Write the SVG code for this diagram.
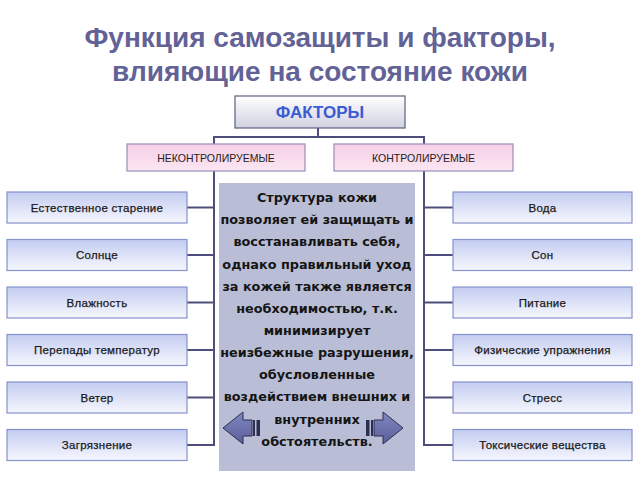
<svg xmlns="http://www.w3.org/2000/svg" width="640" height="480" viewBox="0 0 640 480">
<defs>
<linearGradient id="gBlue" x1="0" y1="0" x2="0" y2="1">
<stop offset="0" stop-color="#c3ccf1"/>
<stop offset="1" stop-color="#f6f7fd"/>
</linearGradient>
<linearGradient id="gPink" x1="0" y1="0" x2="0" y2="1">
<stop offset="0" stop-color="#f6cfe7"/>
<stop offset="1" stop-color="#fbe6f2"/>
</linearGradient>
<linearGradient id="gTop" x1="0" y1="0" x2="0" y2="1">
<stop offset="0" stop-color="#ffffff"/>
<stop offset="1" stop-color="#cfd1e0"/>
</linearGradient>
<linearGradient id="gArrow" x1="0" y1="0" x2="0" y2="1">
<stop offset="0" stop-color="#8086c0"/>
<stop offset="1" stop-color="#5a5f98"/>
</linearGradient>
<style>
.title{font-family:"Liberation Sans",Arial,sans-serif;font-weight:bold;font-size:28px;fill:#626296;text-anchor:middle}
.box{fill:url(#gBlue);stroke:#8592cc;stroke-width:1.2}
.lbl{font-family:"Liberation Sans",Arial,sans-serif;font-size:11.5px;fill:#1a1a1a;stroke:#1a1a1a;stroke-width:0.25;text-anchor:middle;letter-spacing:0.3px}
.pink{fill:url(#gPink);stroke:#9b8cb8;stroke-width:1.2}
.cat{font-family:"Liberation Sans",Arial,sans-serif;font-size:10.5px;fill:#222;text-anchor:middle}
.conn{stroke:#4e4e7c;stroke-width:2;fill:none}
.body{font-family:"DejaVu Sans",Verdana,sans-serif;font-weight:bold;font-size:12.8px;fill:#151515;text-anchor:middle}
.arrow{fill:url(#gArrow);stroke:#2e2e50;stroke-width:1}
.bar{fill:#2e2e50}
</style>
</defs>
<rect width="640" height="480" fill="#ffffff"/>
<text class="title" x="320" y="47">Функция самозащиты и факторы,</text>
<text class="title" x="320" y="81">влияющие на состояние кожи</text>

<g id="connectors">
<path class="conn" d="M318 128 V137 M214 144 V137 H424 V144"/>
<path class="conn" d="M214 171 V446"/>
<path class="conn" d="M424 171 V446"/>
<path class="conn" d="M187 207.5 H214 M187 255 H214 M187 302.5 H214 M187 350 H214 M187 397.5 H214 M187 445 H214"/>
<path class="conn" d="M424 207.5 H453 M424 255 H453 M424 302.5 H453 M424 350 H453 M424 397.5 H453 M424 445 H453"/>
</g>

<g id="factors">
<rect x="235" y="96" width="170" height="32" fill="url(#gTop)" stroke="#5e5e80" stroke-width="1.2"/>
<text x="320" y="118" font-family="Liberation Sans,Arial,sans-serif" font-weight="bold" font-size="17" fill="#3b5bd3" text-anchor="middle">ФАКТОРЫ</text>
</g>
<g id="uncontrolled">
<rect class="pink" x="127" y="144" width="178" height="27"/>
<text class="cat" x="216" y="161.5">НЕКОНТРОЛИРУЕМЫЕ</text>
</g>
<g id="controlled">
<rect class="pink" x="334" y="144" width="179" height="27"/>
<text class="cat" x="423.5" y="161.5">КОНТРОЛИРУЕМЫЕ</text>
</g>

<g id="central">
<rect x="219" y="183" width="196" height="288" fill="#b9bdd6"/>
<text class="body" x="317" y="202">Структура кожи</text>
<text class="body" x="317" y="224">позволяет ей защищать и</text>
<text class="body" x="317" y="246">восстанавливать себя,</text>
<text class="body" x="317" y="269">однако правильный уход</text>
<text class="body" x="317" y="291">за кожей также является</text>
<text class="body" x="317" y="313">необходимостью, т.к.</text>
<text class="body" x="317" y="335">минимизирует</text>
<text class="body" x="317" y="357">неизбежные разрушения,</text>
<text class="body" x="317" y="379">обусловленные</text>
<text class="body" x="317" y="401">воздействием внешних и</text>
<text class="body" x="317" y="424">внутренних</text>
<text class="body" x="317" y="446">обстоятельств.</text>
<polygon class="arrow" points="223,428 243,412 243,420 252,420 252,436 243,436 243,444"/>
<rect class="bar" x="253" y="420" width="2" height="16"/>
<rect class="bar" x="256.5" y="420" width="3.5" height="16"/>
<polygon class="arrow" points="403,428 383,412 383,420 374,420 374,436 383,436 383,444"/>
<rect class="bar" x="371" y="420" width="2" height="16"/>
<rect class="bar" x="366" y="420" width="3.5" height="16"/>
</g>

<g id="n1"><rect class="box" x="7" y="192" width="180" height="31"/><text class="lbl" x="97" y="211.5">Естественное старение</text></g>
<g id="n2"><rect class="box" x="7" y="239.5" width="180" height="31"/><text class="lbl" x="97" y="259">Солнце</text></g>
<g id="n3"><rect class="box" x="7" y="287" width="180" height="31"/><text class="lbl" x="97" y="306.5">Влажность</text></g>
<g id="n4"><rect class="box" x="7" y="334.5" width="180" height="31"/><text class="lbl" x="97" y="354">Перепады температур</text></g>
<g id="n5"><rect class="box" x="7" y="382" width="180" height="31"/><text class="lbl" x="97" y="401.5">Ветер</text></g>
<g id="n6"><rect class="box" x="7" y="429.5" width="180" height="31"/><text class="lbl" x="97" y="449">Загрязнение</text></g>

<g id="n7"><rect class="box" x="453" y="192" width="179" height="31"/><text class="lbl" x="542.5" y="211.5">Вода</text></g>
<g id="n8"><rect class="box" x="453" y="239.5" width="179" height="31"/><text class="lbl" x="542.5" y="259">Сон</text></g>
<g id="n9"><rect class="box" x="453" y="287" width="179" height="31"/><text class="lbl" x="542.5" y="306.5">Питание</text></g>
<g id="n10"><rect class="box" x="453" y="334.5" width="179" height="31"/><text class="lbl" x="542.5" y="354">Физические упражнения</text></g>
<g id="n11"><rect class="box" x="453" y="382" width="179" height="31"/><text class="lbl" x="542.5" y="401.5">Стресс</text></g>
<g id="n12"><rect class="box" x="453" y="429.5" width="179" height="31"/><text class="lbl" x="542.5" y="449">Токсические вещества</text></g>
</svg>
